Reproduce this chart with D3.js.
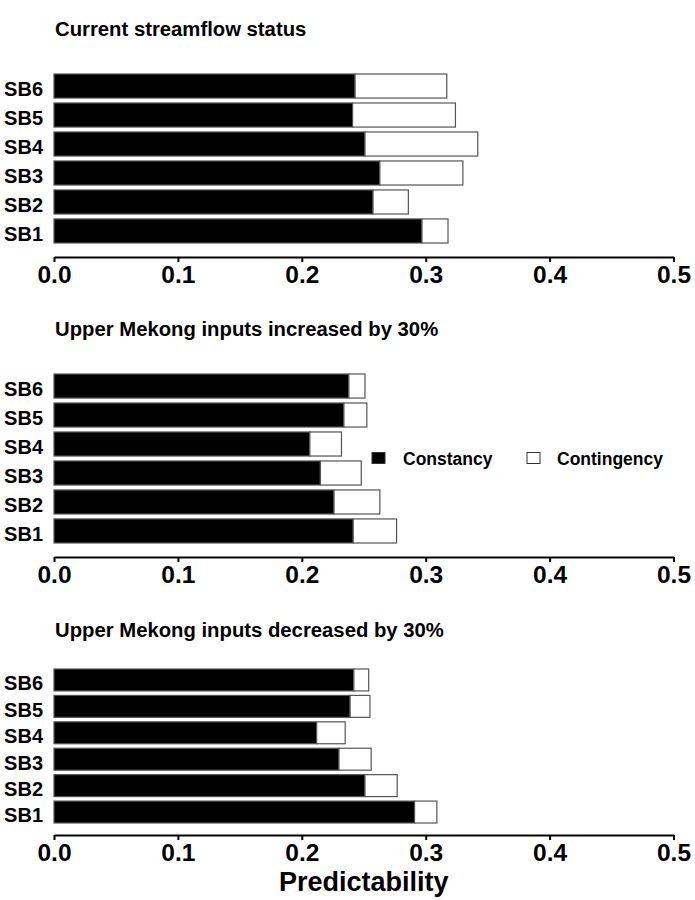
<!DOCTYPE html>
<html>
<head>
<meta charset="utf-8">
<script src="https://cdn.jsdelivr.net/npm/d3@7/dist/d3.min.js"></script>
<style>
  html, body { margin: 0; padding: 0; background: #fff; }
  svg text { font-family: "Liberation Sans", Arial, sans-serif; font-weight: bold; fill: #000; }
</style>
</head>
<body>
<div id="chart"></div>
<script>
// ---------- DATA ----------
const categories = ["SB1", "SB2", "SB3", "SB4", "SB5", "SB6"];
const seriesNames = ["Constancy", "Contingency"];

const panelTitles = [
  "Current streamflow status",
  "Upper Mekong inputs increased by 30%",
  "Upper Mekong inputs decreased by 30%"
];

// Current streamflow status
const constancyCurrent   = [0.297, 0.2575, 0.263, 0.251, 0.241, 0.243];
const contingencyCurrent = [0.021, 0.0285, 0.067, 0.091, 0.083, 0.074];

// Upper Mekong inputs increased by 30%
const constancyIncreased   = [0.2415, 0.226, 0.215, 0.2065, 0.234, 0.238];
const contingencyIncreased = [0.035, 0.037, 0.033, 0.0255, 0.0185, 0.013];

// Upper Mekong inputs decreased by 30%
const constancyDecreased   = [0.291, 0.251, 0.230, 0.212, 0.239, 0.242];
const contingencyDecreased = [0.018, 0.026, 0.026, 0.023, 0.016, 0.012];

const xTicks = [0.0, 0.1, 0.2, 0.3, 0.4, 0.5];
const xAxisLabel = "Predictability";

// ---------- LAYOUT ----------
const W = 695, H = 900;
const svg = d3.select("#chart").append("svg")
  .attr("width", W).attr("height", H);

const x = d3.scaleLinear().domain([0, 0.5]).range([54, 673.5]);

const panels = [
  { title: panelTitles[0], c: constancyCurrent, g: contingencyCurrent,
    titleY: 36, bandTop: 74, bandBottom: 243, axisY: 257 },
  { title: panelTitles[1], c: constancyIncreased, g: contingencyIncreased,
    titleY: 336, bandTop: 374, bandBottom: 543, axisY: 557 },
  { title: panelTitles[2], c: constancyDecreased, g: contingencyDecreased,
    titleY: 637, bandTop: 669, bandBottom: 823, axisY: 835 }
];

const colors = { Constancy: "#000", Contingency: "#fff" };

panels.forEach(p => {
  const g = svg.append("g");

  g.append("text")
    .attr("x", 55).attr("y", p.titleY)
    .attr("font-size", 20.3)
    .text(p.title);

  const y = d3.scaleBand()
    .domain(categories.slice().reverse())
    .range([p.bandTop, p.bandBottom])
    .paddingInner(0.17)
    .paddingOuter(0);

  const rows = categories.map((cat, i) => ({
    cat, Constancy: p.c[i], Contingency: p.g[i]
  }));
  const stacked = d3.stack().keys(seriesNames)(rows);

  g.selectAll("g.series").data(stacked).join("g")
    .attr("class", "series")
    .attr("fill", d => colors[d.key])
    .selectAll("rect").data(d => d).join("rect")
      .attr("x", d => x(d[0]))
      .attr("y", d => y(d.data.cat))
      .attr("width", d => x(d[1]) - x(d[0]))
      .attr("height", y.bandwidth())
      .attr("stroke", "#555")
      .attr("stroke-width", 1.2);

  // category labels
  const yAxis = g.append("g")
    .attr("transform", "translate(54,0)")
    .call(d3.axisLeft(y).tickSize(0).tickPadding(11));
  yAxis.select(".domain").remove();
  yAxis.selectAll("text")
    .attr("font-size", 20)
    .attr("font-family", null)
    .attr("dy", "0.52em")
    .attr("y", 0);

  // x axis
  const xAxis = g.append("g")
    .attr("transform", `translate(0,${p.axisY})`)
    .call(d3.axisBottom(x).tickValues(xTicks).tickFormat(d3.format(".1f"))
      .tickSize(5).tickSizeOuter(0).tickPadding(4));
  xAxis.select(".domain").attr("stroke", "#000").attr("stroke-width", 2);
  xAxis.selectAll(".tick line").attr("stroke", "#000").attr("stroke-width", 2);
  xAxis.selectAll("text").attr("font-size", 24.5).attr("font-family", null);
});

// x axis title
svg.append("text")
  .attr("x", (x(0) + x(0.5)) / 2).attr("y", 891)
  .attr("text-anchor", "middle")
  .attr("font-size", 27)
  .text(xAxisLabel);

// legend
const legend = svg.append("g");
const legendItems = [
  { key: "Constancy", sx: 372, tx: 403 },
  { key: "Contingency", sx: 527, tx: 557 }
];
legendItems.forEach(it => {
  legend.append("rect")
    .attr("x", it.sx).attr("y", 452.5)
    .attr("width", 13).attr("height", 11)
    .attr("fill", colors[it.key])
    .attr("stroke", "#333").attr("stroke-width", 1);
  legend.append("text")
    .attr("x", it.tx).attr("y", 465)
    .attr("font-size", 17.5)
    .text(it.key);
});
</script>
</body>
</html>
